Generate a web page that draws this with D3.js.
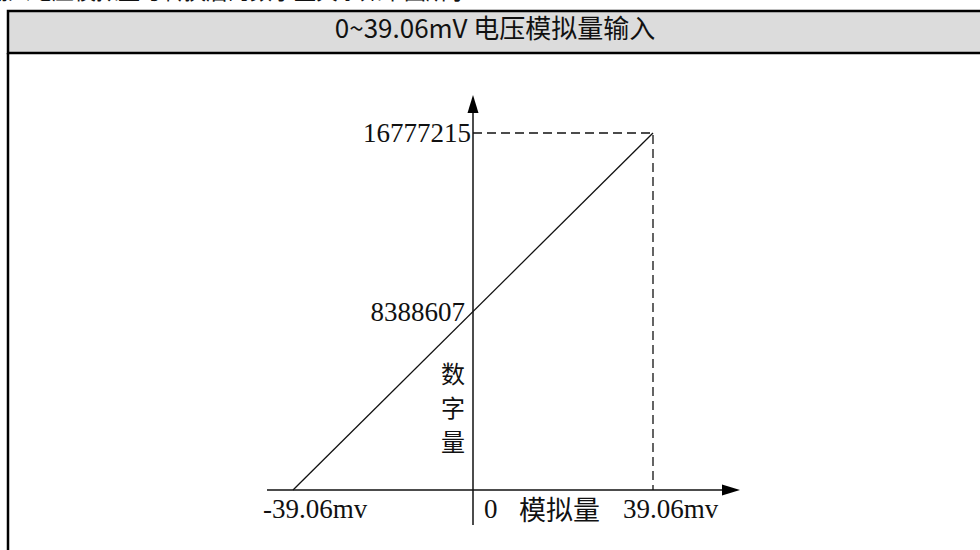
<!DOCTYPE html>
<html>
<head>
<meta charset="utf-8">
<script src="https://cdn.jsdelivr.net/npm/d3@7"></script>
<style>
  html, body { margin: 0; padding: 0; background: #fff; }
  svg { display: block; }
  .num { font-family: 'Liberation Serif', 'DejaVu Serif', serif; font-size: 27px; fill: #111; }
  .cjk { font-family: 'Noto Sans CJK SC', sans-serif; font-size: 27px; fill: #111; }
</style>
</head>
<body>
<div id="chart-area"></div>
<script>
// Chart content
const headerText = '输入电压模拟量与转换后的数字量关系如下图所示';
const title = '0~39.06mV 电压模拟量输入';
const xLabel = '模拟量';
const yLabel = ['数', '字', '量'];

// Axis ticks
const xTicks = [-39.06, 0, 39.06];
const xTickLabels = ['-39.06mv', '0', '39.06mv'];
const yTicks = [8388607, 16777215];
const yTickLabels = ['8388607', '16777215'];

// Transfer line (analog in -> digital out)
const lineX = [-39.06, 39.06];
const lineY = [0, 16777215];

const width = 980;
const height = 550;

const svg = d3.select('#chart-area')
  .append('svg')
  .attr('width', width)
  .attr('height', height);

// Cut-off sentence above the box (only its lower edge shows)
svg.append('text')
  .attr('x', -14)
  .attr('y', -1)
  .attr('font-family', "'Noto Sans CJK SC', sans-serif")
  .attr('font-size', 22)
  .attr('fill', '#111')
  .text(headerText);

// Frame: title row + body
svg.append('rect')
  .attr('x', 8)
  .attr('y', 11)
  .attr('width', 990)
  .attr('height', 42)
  .attr('fill', '#dcdcdc')
  .attr('stroke', '#000')
  .attr('stroke-width', 2.5);

svg.append('path')
  .attr('d', 'M8,53 V560')
  .attr('stroke', '#000')
  .attr('stroke-width', 2.5)
  .attr('fill', 'none');

svg.append('text')
  .attr('x', 495)
  .attr('y', 38)
  .attr('text-anchor', 'middle')
  .attr('font-family', "'Noto Sans CJK SC', sans-serif")
  .attr('font-size', 26)
  .attr('fill', '#111')
  .text(title);

// Scales
const xScale = d3.scaleLinear()
  .domain([-39.06, 39.06])
  .range([293, 653]);

const yScale = d3.scaleLinear()
  .domain([0, 16777215])
  .range([490, 133]);

const x0 = xScale(0);
const y0 = yScale(0);

// Axes with arrows
const xStart = 267;
const xEnd = 740;
const yBottom = 525;
const yTop = 95;

const g = svg.append('g');

g.append('line')
  .attr('x1', xStart).attr('x2', xEnd - 10)
  .attr('y1', y0).attr('y2', y0)
  .attr('stroke', '#111')
  .attr('stroke-width', 1.5);

g.append('path')
  .attr('d', `M${xEnd},${y0} L${xEnd - 18},${y0 - 5.5} L${xEnd - 18},${y0 + 5.5} Z`)
  .attr('fill', '#000');

g.append('line')
  .attr('x1', x0).attr('x2', x0)
  .attr('y1', yBottom).attr('y2', yTop + 10)
  .attr('stroke', '#111')
  .attr('stroke-width', 1.5);

g.append('path')
  .attr('d', `M${x0},${yTop} L${x0 - 5.5},${yTop + 18} L${x0 + 5.5},${yTop + 18} Z`)
  .attr('fill', '#000');

// Dashed guides to full-scale point
const xMax = d3.max(xTicks);
const yMax = d3.max(yTicks);

g.append('path')
  .attr('d', `M${x0},${yScale(yMax)} H${xScale(xMax)} V${y0}`)
  .attr('fill', 'none')
  .attr('stroke', '#111')
  .attr('stroke-width', 1.3)
  .attr('stroke-dasharray', '9,5');

// Transfer line
const line = d3.line()
  .x((d) => xScale(d[0]))
  .y((d) => yScale(d[1]));

g.append('path')
  .datum(d3.zip(lineX, lineY))
  .attr('d', line)
  .attr('fill', 'none')
  .attr('stroke', '#111')
  .attr('stroke-width', 1.3);

// Y tick labels
g.selectAll('.y-label')
  .data(yTicks)
  .enter()
  .append('text')
  .attr('class', 'num y-label')
  .attr('x', (d) => x0 - (d === yMax ? 2 : 8))
  .attr('y', (d) => yScale(d) + 9)
  .attr('text-anchor', 'end')
  .text((d, i) => yTickLabels[i]);

// X tick labels
g.selectAll('.x-label')
  .data(xTicks)
  .enter()
  .append('text')
  .attr('class', 'num x-label')
  .attr('x', (d) => xScale(d) + (d === 0 ? 11 : -30))
  .attr('y', y0 + 28)
  .text((d, i) => xTickLabels[i]);

// Axis titles
g.append('text')
  .attr('class', 'cjk')
  .attr('x', 519)
  .attr('y', y0 + 30)
  .text(xLabel);

g.selectAll('.y-title')
  .data(yLabel)
  .enter()
  .append('text')
  .attr('class', 'cjk y-title')
  .attr('x', 453)
  .attr('y', (d, i) => 372 + i * 34)
  .attr('text-anchor', 'middle')
  .attr('dominant-baseline', 'central')
  .style('font-size', '24px')
  .text((d) => d);
</script>
</body>
</html>
